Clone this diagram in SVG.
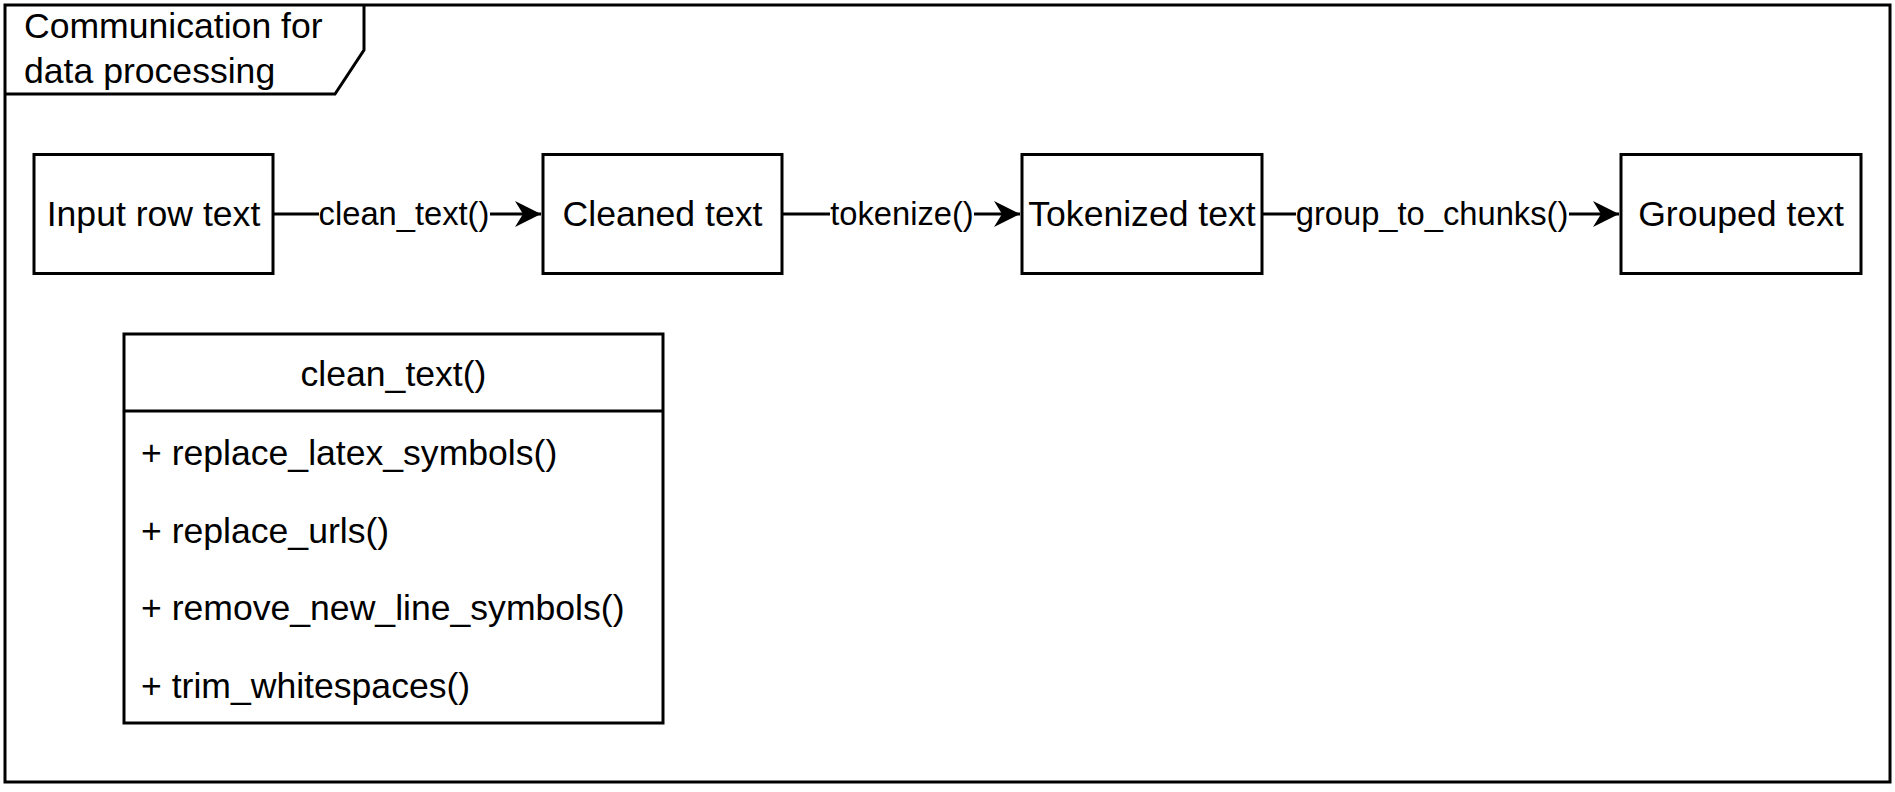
<svg xmlns="http://www.w3.org/2000/svg" width="1895" height="792" viewBox="0 0 1895 792">
<style>
  .box{fill:#fff;stroke:#000;stroke-width:3}
  .ln{fill:none;stroke:#000;stroke-width:3}
  .t{font-family:"Liberation Sans",Arial,Helvetica,sans-serif;font-size:35.6px;fill:#000}
  .c{text-anchor:middle}
  .lbl{font-family:"Liberation Sans",Arial,Helvetica,sans-serif;font-size:32.7px;fill:#000;text-anchor:middle}
  .bg{fill:#fff;stroke:none}
</style>
<defs>
  <marker id="arr" markerUnits="userSpaceOnUse" markerWidth="28" markerHeight="28" refX="26" refY="13" orient="auto">
    <path d="M0,0 L26,13 L0,26 L8,13 Z" fill="#000"/>
  </marker>
</defs>
<rect width="1895" height="792" fill="#fff"/>
<g id="frame">
  <rect class="box" x="5" y="5" width="1885" height="777" fill="none"/>
  <path class="ln" d="M5,94 L335,94 L364,50 L364,5"/>
  <text class="t" x="24" y="38">Communication for</text>
  <text class="t" x="24" y="83">data processing</text>
</g>
<g id="connectors">
  <line class="ln" x1="273" y1="214" x2="541" y2="214" marker-end="url(#arr)"/>
  <line class="ln" x1="782" y1="214" x2="1020" y2="214" marker-end="url(#arr)"/>
  <line class="ln" x1="1262" y1="214" x2="1619" y2="214" marker-end="url(#arr)"/>
  <rect class="bg" x="319" y="196" width="171" height="38"/>
  <text class="lbl" x="404" y="225">clean_text()</text>
  <rect class="bg" x="830" y="196" width="144" height="38"/>
  <text class="lbl" x="902" y="225">tokenize()</text>
  <rect class="bg" x="1296" y="196" width="273" height="38"/>
  <text class="lbl" x="1432" y="225">group_to_chunks()</text>
</g>
<g id="input">
  <rect class="box" x="34" y="154.5" width="239" height="119"/>
  <text class="t c" x="153.5" y="225.5">Input row text</text>
</g>
<g id="cleaned">
  <rect class="box" x="543" y="154.5" width="239" height="119"/>
  <text class="t c" x="662.5" y="225.5">Cleaned text</text>
</g>
<g id="tokenized">
  <rect class="box" x="1022" y="154.5" width="240" height="119"/>
  <text class="t c" x="1142" y="225.5">Tokenized text</text>
</g>
<g id="grouped">
  <rect class="box" x="1621" y="154.5" width="240" height="119"/>
  <text class="t c" x="1741" y="225.5">Grouped text</text>
</g>
<g id="clean_text_class">
  <rect class="box" x="124" y="334" width="539" height="389"/>
  <line class="ln" x1="124" y1="411" x2="663" y2="411"/>
  <text class="t c" x="393.5" y="386">clean_text()</text>
  <text class="t" x="141" y="465">+ replace_latex_symbols()</text>
  <text class="t" x="141" y="542.5">+ replace_urls()</text>
  <text class="t" x="141" y="620">+ remove_new_line_symbols()</text>
  <text class="t" x="141" y="697.5">+ trim_whitespaces()</text>
</g>
</svg>
